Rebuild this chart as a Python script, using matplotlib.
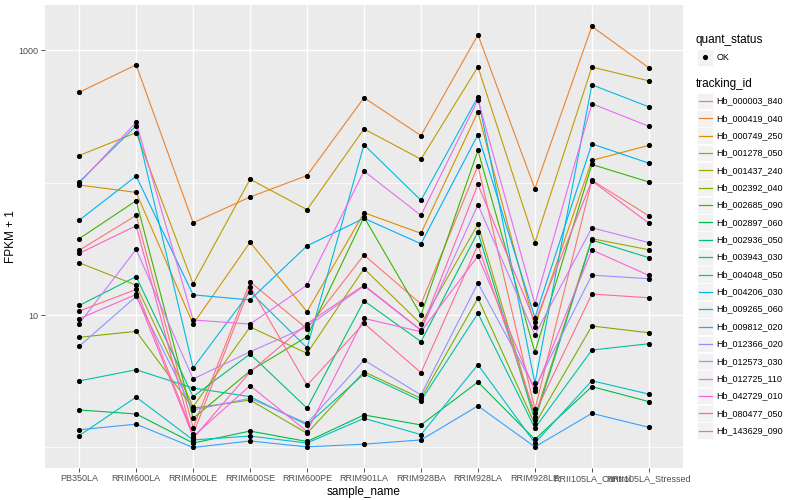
import matplotlib
matplotlib.use("Agg")
import matplotlib.pyplot as plt
from matplotlib.patches import Rectangle
from matplotlib.lines import Line2D

plt.rcParams['font.family'] = ['Liberation Sans', 'DejaVu Sans']

samples = ['PB350LA', 'RRIM600LA', 'RRIM600LE', 'RRIM600SE', 'RRIM600PE',
           'RRIM901LA', 'RRIM928BA', 'RRIM928LA', 'RRIM928LE',
           'RRII105LA_Control', 'RRII105LA_Stressed']

tracking_ids = ['Hb_000003_840', 'Hb_000419_040', 'Hb_000749_250', 'Hb_001278_050',
                'Hb_001437_240', 'Hb_002392_040', 'Hb_002685_090', 'Hb_002897_060',
                'Hb_002936_050', 'Hb_003943_030', 'Hb_004048_050', 'Hb_004206_030',
                'Hb_009265_060', 'Hb_009812_020', 'Hb_012366_020', 'Hb_012573_030',
                'Hb_012725_110', 'Hb_042729_010', 'Hb_080477_050', 'Hb_143629_090']

# FPKM + 1 per sample
hb_000003_840 = [30.8, 56.5, 1.41, 17.8, 7.88, 28.4, 12.1, 134, 1.94, 104, 56.1]
hb_000419_040 = [480, 774, 49.7, 77.8, 113, 437, 226, 1304, 89.8, 1510, 735]
hb_000749_250 = [95.8, 84.3, 8.55, 35.4, 10.6, 59.2, 41.4, 342, 8.16, 147, 191]
hb_001278_050 = [160, 238, 17.2, 106, 62.4, 254, 150, 748, 35.2, 745, 586]
hb_001437_240 = [24.8, 16.8, 2.03, 8.12, 5.14, 22.4, 8.55, 48.4, 1.71, 37.7, 31.1]
hb_002392_040 = [6.79, 7.53, 1.98, 2.28, 1.28, 3.73, 2.35, 13.4, 1.50, 8.26, 7.35]
hb_002685_090 = [37.7, 72.9, 1.66, 3.78, 6.86, 54.9, 10.0, 175, 5.23, 137, 101]
hb_002897_060 = [1.92, 1.79, 1.08, 1.33, 1.11, 1.76, 1.48, 3.12, 1.15, 2.88, 2.22]
hb_002936_050 = [11.8, 19.5, 2.42, 5.08, 1.98, 12.8, 6.29, 42.3, 1.61, 36.8, 27.1]
hb_003943_030 = [3.18, 3.86, 2.81, 2.42, 1.48, 3.59, 2.25, 10.3, 1.40, 5.44, 6.07]
hb_004048_050 = [1.23, 2.40, 1.14, 1.22, 1.08, 1.66, 1.25, 4.22, 1.08, 3.19, 2.53]
hb_004206_030 = [101, 268, 3.98, 15.0, 5.66, 193, 73.4, 444, 3.05, 547, 373]
hb_009265_060 = [51.9, 112, 14.2, 13.0, 33.3, 53.7, 34.5, 230, 9.55, 196, 140]
hb_009812_020 = [1.36, 1.50, 1.00, 1.12, 1.01, 1.06, 1.14, 2.06, 1.01, 1.81, 1.42]
hb_012366_020 = [5.81, 13.8, 1.92, 2.35, 1.52, 4.57, 2.49, 17.4, 2.80, 20.0, 18.8]
hb_012573_030 = [8.60, 31.3, 3.29, 5.28, 8.16, 16.6, 7.64, 68.0, 7.06, 45.6, 35.2]
hb_012725_110 = [99.1, 285, 9.17, 8.55, 16.8, 122, 56.5, 422, 12.1, 394, 266]
hb_042729_010 = [9.38, 14.3, 1.21, 2.93, 1.32, 9.43, 7.48, 27.9, 2.68, 31.0, 19.9]
hb_080477_050 = [29.2, 47.2, 1.17, 3.71, 8.60, 16.8, 7.71, 96.9, 8.90, 103, 49.4]
hb_143629_090 = [10.7, 15.6, 1.26, 16.4, 2.95, 8.66, 3.67, 33.8, 1.81, 14.4, 13.5]

fpkm_plus_one = [hb_000003_840, hb_000419_040, hb_000749_250, hb_001278_050,
                 hb_001437_240, hb_002392_040, hb_002685_090, hb_002897_060,
                 hb_002936_050, hb_003943_030, hb_004048_050, hb_004206_030,
                 hb_009265_060, hb_009812_020, hb_012366_020, hb_012573_030,
                 hb_012725_110, hb_042729_010, hb_080477_050, hb_143629_090]

# ggplot2 default hue palette for 20 levels
colors = ['#F8766D', '#EA8331', '#D89000', '#C09B00', '#A3A500', '#7CAE00',
          '#39B600', '#00BB4E', '#00BF7D', '#00C1A3', '#00BFC4', '#00BAE0',
          '#00B0F6', '#35A2FF', '#9590FF', '#C77CFF', '#E76BF3', '#FA62DB',
          '#FF62BC', '#FF6C91']

fig = plt.figure(figsize=(8, 5), dpi=100)
ax = fig.add_axes([45 / 800, 32 / 500, 638 / 800, 463 / 500])
ax.set_facecolor('#EBEBEB')

x = list(range(len(samples)))
for vals, col in zip(fpkm_plus_one, colors):
    ax.plot(x, vals, color=col, lw=0.8, zorder=2)
for vals in fpkm_plus_one:
    ax.plot(x, vals, ls='none', marker='o', ms=2.7, color='black', zorder=3)

ax.set_yscale('log')
ax.set_ylim(0.70, 2190)
ax.set_xlim(-0.6, len(samples) - 0.4)
ax.set_yticks([10, 1000])
ax.set_yticklabels(['10', '1000'])
ax.set_yticks([1, 100], minor=True)
ax.set_yticklabels([], minor=True)
ax.set_xticks(x)
ax.set_xticklabels(samples)

ax.grid(True, which='major', color='white', lw=1.0, zorder=0)
ax.grid(True, which='minor', axis='y', color='white', lw=0.5, zorder=0)
ax.set_axisbelow(True)
for s in ax.spines.values():
    s.set_visible(False)
ax.tick_params(axis='both', which='major', length=3, width=0.6, color='#333333',
               labelsize=6.5, labelcolor='#4D4D4D', pad=1.5)
ax.tick_params(axis='y', which='minor', length=0)

ax.set_xlabel('sample_name', fontsize=8.5)
ax.set_ylabel('FPKM + 1', fontsize=8.5)
ax.xaxis.set_label_coords(0.5, -0.038)
ax.yaxis.set_label_coords(-0.044, 0.5)

# legend drawn in pixel coordinates
lg = fig.add_axes([0, 0, 1, 1])
lg.set_xlim(0, 800)
lg.set_ylim(500, 0)
lg.axis('off')

lg.text(696, 40, 'quant_status', fontsize=8.5, va='center', ha='left')
lg.add_patch(Rectangle((697, 49), 16, 16.5, facecolor='#F2F2F2', edgecolor='white', lw=0.5))
lg.add_line(Line2D([705], [57.3], marker='o', ms=2.7, color='black'))
lg.text(716.5, 57.3, 'OK', fontsize=6.5, va='center', ha='left')

lg.text(696, 84, 'tracking_id', fontsize=8.5, va='center', ha='left')
for k, (tid, col) in enumerate(zip(tracking_ids, colors)):
    cy = 101 + 17.35 * k
    lg.add_patch(Rectangle((697, cy - 8.4), 16, 16.8, facecolor='#F2F2F2',
                           edgecolor='white', lw=0.5))
    lg.add_line(Line2D([698.5, 711.5], [cy, cy], color=col, lw=0.9))
    lg.text(716.5, cy, tid, fontsize=6.5, va='center', ha='left')

fig.savefig('out.png', dpi=100)
